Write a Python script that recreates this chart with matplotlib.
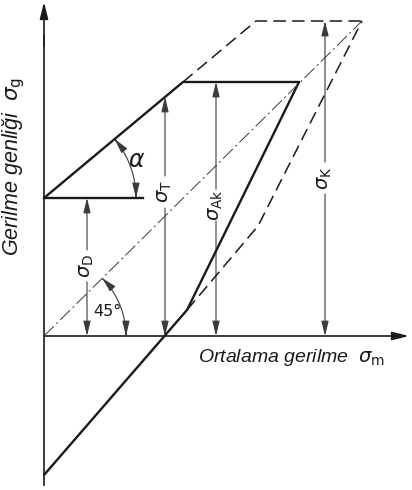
import numpy as np
import matplotlib
matplotlib.use("Agg")
import matplotlib.pyplot as plt
from matplotlib.patches import FancyArrowPatch
from matplotlib.path import Path

plt.rcParams['lines.scale_dashes'] = False
plt.rcParams['mathtext.fontset'] = 'dejavusans'

# Smith diagram values (mean stress sigma_m, limit stress)
upper_m = [0, 139, 255]
upper_s = [138, 254, 254]
lower_m = [0, 143, 255]
lower_s = [-139, 26, 254]
notch_upper_m = [139, 212, 318]
notch_upper_s = [254, 315, 315]
notch_lower_m = [143, 214, 318]
notch_lower_s = [26, 110, 315]
diag_m = [0, 318]
diag_s = [0, 315]
sigma_D = 138
sigma_D_len = 99

# dimension arrows: (name, position on sigma_m axis, height, label height)
dims = [
    (r'$\sigma_{\mathrm{D}}$', 43, 138, 70),
    (r'$\sigma_{\mathrm{T}}$', 121, 239, 144),
    (r'$\sigma_{\mathrm{Ak}}$', 172, 254, 131),
    (r'$\sigma_{\mathrm{K}}$', 281, 315, 158),
]

fig = plt.figure(figsize=(4.12, 4.90), dpi=100)
ax = fig.add_axes([0, 0, 1, 1])
ax.set_xlim(-44, 368)
ax.set_ylim(-154, 336)
ax.axis('off')

black = '#1a1a1a'
thin = '#3a3a3a'

def arrow(p0, p1, lw=0.8, color=thin, style='-|>', hl=0.9, hw=0.22):
    a = FancyArrowPatch(p0, p1, arrowstyle=f'{style},head_length={hl},head_width={hw}',
                        mutation_scale=10, lw=lw, color=color, shrinkA=0, shrinkB=0)
    ax.add_patch(a)

# axes
arrow((0, 0), (365, 0), lw=1.2, color=black, hl=1.0, hw=0.25)
ax.plot([0, 0], [-149, 300], color=black, lw=1.2)
arrow((0, 290), (0, 334), lw=1.2, color=black, hl=1.0, hw=0.25)

# limit lines
ax.plot(upper_m, upper_s, color=black, lw=1.7, solid_capstyle='round')
ax.plot(lower_m, lower_s, color=black, lw=1.7, solid_capstyle='round')
ax.plot([0, sigma_D_len], [sigma_D, sigma_D], color=black, lw=1.7)
ax.plot(notch_upper_m, notch_upper_s, color=black, lw=1.1, dashes=(9, 4.5))
ax.plot(notch_lower_m, notch_lower_s, color=black, lw=1.1, dashes=(9, 4.5))
ax.plot(diag_m, diag_s, color=thin, lw=0.7, dashes=(10, 2.5, 1.5, 2.5))

# dimension arrows with label gap
for label, m, h, ly in dims:
    gap = 16
    arrow((m, ly + gap), (m, h))
    arrow((m, ly - gap), (m, 0))
    ax.text(m, ly, label, rotation=90, ha='center', va='center', fontsize=14, color=black)

# angle arcs
def arc(cx, cy, r, a0, a1):
    t = np.radians(np.linspace(a0, a1, 60))
    verts = np.column_stack([cx + r * np.cos(t), cy + r * np.sin(t)])
    p = FancyArrowPatch(path=Path(verts), arrowstyle='<|-|>,head_length=0.9,head_width=0.22',
                        mutation_scale=10, lw=0.8, color=thin)
    ax.add_patch(p)

alpha_deg = np.degrees(np.arctan2(upper_s[1] - upper_s[0], upper_m[1] - upper_m[0]))
arc(0, sigma_D, 92, 0, alpha_deg)
arc(0, 0, 82, 0, 45)
ax.text(93, 176, r'$\alpha$', fontsize=17, ha='center', va='center', color=black)
ax.text(63, 24, '45°', fontsize=11.5, ha='center', va='center', color=black,
        family='DejaVu Sans')

# axis titles
ax.text(154, -21, 'Ortalama gerilme  ' + r'$\sigma_{\mathrm{m}}$', fontsize=14,
        style='italic', family='Liberation Sans', ha='left', va='center', color=black)
ax.text(-30, 170, 'Gerilme genliği  ' + r'$\sigma_{\mathrm{g}}$', fontsize=15.5,
        style='italic', family='Liberation Sans', ha='center', va='center',
        rotation=90, color=black)

fig.savefig('out.png', dpi=100)
